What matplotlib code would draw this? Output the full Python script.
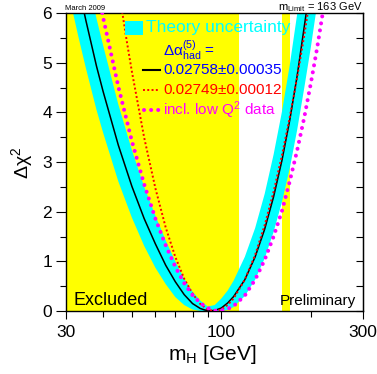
import numpy as np
import matplotlib
matplotlib.use("Agg")
import matplotlib.pyplot as plt
from matplotlib.patches import Rectangle

plt.rcParams['font.family'] = ['Liberation Sans', 'DejaVu Sans']
plt.rcParams['mathtext.fontset'] = 'custom'
plt.rcParams['mathtext.rm'] = 'Liberation Sans'
plt.rcParams['mathtext.it'] = 'Liberation Sans:italic'
plt.rcParams['mathtext.bf'] = 'Liberation Sans:bold'

# excluded regions (GeV)
lep_limit = 114.4
tev_excl = [160, 170]

# theory uncertainty band
m_band = [30, 33, 35, 38, 40, 45, 50, 55, 60, 65, 70, 75, 80, 85, 90, 95,
          100, 105, 110, 120, 130, 140, 150, 160, 170, 180, 190, 200, 210]
band_lo = [6.63, 5.53, 4.89, 4.05, 3.59, 2.61, 1.88, 1.31, 0.87, 0.54, 0.28, 0.12, 0.03, 0, 0, 0,
           0, 0.02, 0.08, 0.30, 0.63, 1.06, 1.59, 2.19, 2.87, 3.64, 4.47, 5.29, 6.15]
band_hi = [8.92, 7.65, 6.90, 5.89, 5.35, 4.16, 3.24, 2.50, 1.92, 1.42, 1.00, 0.65, 0.39, 0.21, 0.09, 0.12,
           0.25, 0.41, 0.61, 1.09, 1.67, 2.36, 3.15, 4.01, 4.95, 5.97, 7.07, 8.11, 9.2]

# dalpha = 0.02758 +- 0.00035 (black)
m_fit = [30, 33, 35, 38, 40, 45, 50, 55, 60, 65, 70, 75, 80, 85, 88, 92, 96,
         100, 105, 110, 120, 130, 140, 150, 160, 170, 180, 190, 200, 210]
chi_fit = [7.73, 6.55, 5.85, 4.93, 4.42, 3.34, 2.51, 1.86, 1.35, 0.92, 0.59, 0.33, 0.15, 0.05, 0.02, 0, 0.02,
           0.06, 0.16, 0.29, 0.63, 1.09, 1.65, 2.30, 3.03, 3.84, 4.73, 5.70, 6.63, 7.6]

# dalpha = 0.02749 +- 0.00012 (red)
m_red = [43, 45, 48, 50, 55, 60, 65, 70, 75, 80, 85, 90, 95, 100, 105, 110,
         120, 130, 140, 150, 160, 170, 180, 190, 200]
chi_red = [7.35, 6.53, 5.45, 4.82, 3.49, 2.47, 1.68, 1.09, 0.65, 0.35, 0.14, 0.03, 0, 0.03, 0.12, 0.25,
           0.63, 1.13, 1.73, 2.40, 3.13, 3.90, 4.70, 5.53, 6.38]

# incl. low Q^2 data (magenta)
m_lowq = [35, 38, 40, 45, 50, 55, 60, 65, 70, 75, 80, 85, 90, 95, 98, 105, 110,
          120, 130, 140, 150, 160, 170, 180, 190, 200, 210, 220, 230]
chi_lowq = [7.81, 6.61, 5.91, 4.52, 3.42, 2.55, 1.86, 1.32, 0.89, 0.56, 0.32, 0.16, 0.06, 0.01, 0, 0.04, 0.10,
            0.31, 0.63, 1.03, 1.50, 2.01, 2.61, 3.23, 3.88, 4.57, 5.28, 6.03, 6.81]

fig = plt.figure(figsize=(3.77, 3.74), dpi=100)
ax = fig.add_axes([66/377, 1-311/374, 297/377, 298/374])

ax.axvspan(30, lep_limit, color='#ffff00', lw=0, zorder=0)
ax.axvspan(tev_excl[0], tev_excl[1], color='#ffff00', lw=0, zorder=0)
ax.fill_between(m_band, band_lo, band_hi, color='#00ffff', lw=0, zorder=1)
ax.plot(m_fit, chi_fit, color='k', lw=1.1, zorder=3)
ax.plot(m_red, chi_red, color='#ff0000', lw=1.4, linestyle=(0, (1, 1.2)), zorder=3)
ax.plot(m_lowq, chi_lowq, color='#ff00ff', lw=2.9, linestyle=(0, (0.01, 1.75)),
        dash_capstyle='round', zorder=3)

ax.set_xscale('log')
ax.set_xlim(30, 300)
ax.set_ylim(0, 6)
ax.set_xticks([30, 100, 300])
ax.set_xticklabels(['30', '100', '300'])
ax.set_xticks([40, 50, 60, 70, 80, 90, 200], minor=True)
ax.set_xticklabels([], minor=True)
ax.set_yticks(np.arange(0, 7, 1))
ax.set_yticks(np.arange(0.5, 6, 1), minor=True)
ax.tick_params(axis='both', which='major', labelsize=12.5, direction='out', length=7, width=0.8, pad=3)
ax.tick_params(axis='both', which='minor', direction='out', length=4, width=0.8)
ax.tick_params(axis='x', which='major', length=6, pad=4)
ax.tick_params(top=False, right=False)

sec = ax.secondary_yaxis('right')
sec.set_yticks(np.arange(0, 7, 1))
sec.set_yticks(np.arange(0.5, 6, 1), minor=True)
sec.tick_params(which='both', direction='in', length=5, width=0.8, labelright=False)

for s in ax.spines.values():
    s.set_linewidth(1.0)

# legend
ax.add_patch(Rectangle((0.199, 0.926), 0.059, 0.048, transform=ax.transAxes,
                       color='#00ffff', lw=0, zorder=5))
ax.text(0.269, 0.950, 'Theory uncertainty', transform=ax.transAxes, color='#00ffff',
        fontsize=12.5, va='center', zorder=6)
ax.text(0.327, 0.874, 'Δα$^{(5)}_{\\mathrm{had}}$ =', transform=ax.transAxes, color='#0000ff',
        fontsize=11, va='center', zorder=6)
ax.plot([0.259, 0.316], [0.809, 0.809], transform=ax.transAxes, color='k', lw=1.5, zorder=6)
ax.text(0.327, 0.809, '0.02758±0.00035', transform=ax.transAxes, color='#0000ff',
        fontsize=11, va='center', zorder=6)
ax.plot([0.259, 0.316], [0.742, 0.742], transform=ax.transAxes, color='#ff0000', lw=1.4,
        linestyle=(0, (1, 1.2)), zorder=6)
ax.text(0.327, 0.742, '0.02749±0.00012', transform=ax.transAxes, color='#ff0000',
        fontsize=11, va='center', zorder=6)
ax.plot([0.262, 0.316], [0.674, 0.674], transform=ax.transAxes, color='#ff00ff', lw=2.9,
        linestyle=(0, (0.01, 1.75)), dash_capstyle='round', zorder=6)
ax.text(0.327, 0.674, 'incl. low Q$^2$ data', transform=ax.transAxes, color='#ff00ff',
        fontsize=11, va='center', zorder=6)

ax.text(0.024, 0.02, 'Excluded', transform=ax.transAxes, fontsize=13, va='baseline', zorder=6)
ax.text(0.976, 0.02, 'Preliminary', transform=ax.transAxes, fontsize=11, va='baseline',
        ha='right', zorder=6)

fig.text(65/377, 1-10/374, 'March 2009', fontsize=5.5, va='baseline')
fig.text(363/377, 1-10/374, 'm$_{\\mathrm{Limit}}$ = 163 GeV', fontsize=8, va='baseline', ha='right')
fig.text(212/377, 1-355/374, 'm$_{\\mathrm{H}}$ [GeV]', fontsize=15, va='center', ha='center')
fig.text(22/377, 1-163/374, 'Δχ$^{2}$', fontsize=14, va='center', ha='center', rotation=90)

fig.savefig('out.png', dpi=100)
